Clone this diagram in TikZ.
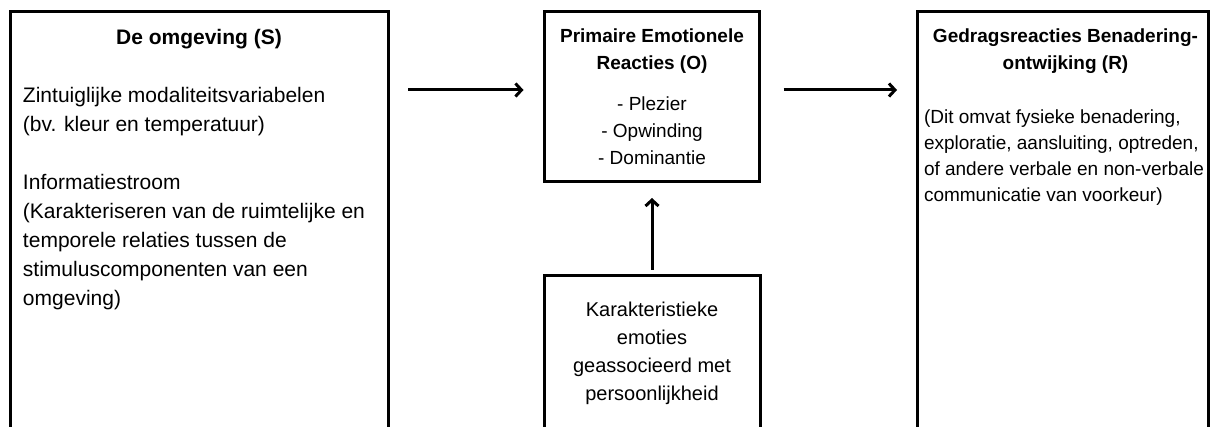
\documentclass[tikz,border=0pt]{standalone}
\usepackage{fontspec}
\setmainfont{Liberation Sans}
\usetikzlibrary{arrows.meta}

\begin{document}
\begin{tikzpicture} [x=1pt, y=-1pt, line width=3pt,
        box/.style={draw, shape=rectangle, inner sep=0pt, outer sep=0pt},
        txt/.style={inner sep=0pt, outer sep=0pt},
        arr/.style={-{Straight Barb[length=6pt, width=13pt]}},
        big/.style={font=\fontsize{21}{29}\selectfont},
        mid/.style={font=\fontsize{19}{27}\selectfont},
        small/.style={font=\fontsize{19}{26}\selectfont},
        head/.style={font=\fontsize{#1}{27}\selectfont\bfseries}]
        \clip (0, 0) rectangle (1210, 427);
        \node [box, anchor=north west, minimum width=378.5pt, minimum height=440pt] (env) at (10, 11.5) {};
        \node [box, mid, align=center, minimum width=215pt, minimum height=170pt] (emo) at (652, 96.5)
            {\textbf{Primaire Emotionele}\\\textbf{Reacties (O)}\\[13.5pt]- Plezier\\- Opwinding\\- Dominantie};
        \node [box, anchor=north, align=center, font=\fontsize{20}{27.8}\selectfont, minimum width=216pt, minimum height=155.3pt] (pers) at (652, 275.5)
            {Karakteristieke\\emoties\\geassocieerd met\\persoonlijkheid};
        \node [box, anchor=north west, minimum width=291pt, minimum height=440pt] (rsp) at (917.5, 11.5) {};
        \node [txt, head=21, anchor=base] (envtitle) at (199, 44.3) {De omgeving (S)};
        \node [txt, big, anchor=north west, align=left] (envtext) at (23, 87.5)
            {Zintuiglijke modaliteitsvariabelen\\(bv. kleur en temperatuur)\\[29pt]Informatiestroom\\(Karakteriseren van de ruimtelijke en\\temporele relaties tussen de\\stimuluscomponenten van een\\omgeving)};
        \node [txt, head=19, anchor=north, align=center] (rsptitle) at (1065.5, 28.5)
            {Gedragsreacties Benadering-\\ontwijking (R)};
        \node [txt, small, anchor=north west, align=left] (rsptext) at (924, 109.4)
            {(Dit omvat fysieke benadering,\\exploratie, aansluiting, optreden,\\of andere verbale en non-verbale\\communicatie van voorkeur)};
        \coordinate (lvl) at (0, 90);
        \draw [arr, shorten <=19.5pt, shorten >=21pt] (env.east |- lvl) -- (emo.west |- lvl);
        \draw [arr, shorten <=24pt, shorten >=20.5pt] (emo.east |- lvl) -- (rsp.west |- lvl);
        \draw [arr, shorten <=5.5pt, shorten >=16.5pt] (pers.north) -- (emo.south);
    \end{tikzpicture}
\end{document}
